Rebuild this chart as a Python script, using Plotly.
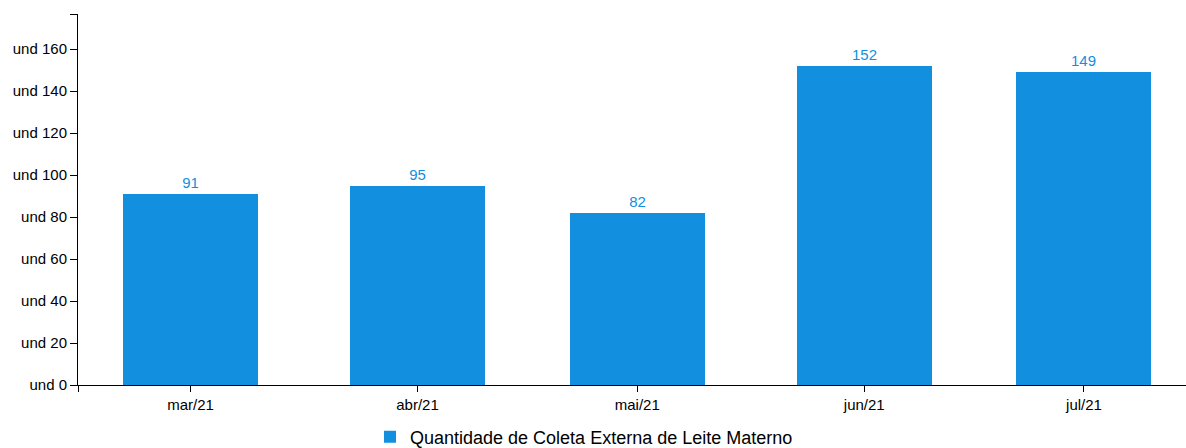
import datetime as dt
import plotly.graph_objects as go

# Data
months = ["2021-03-01", "2021-04-01", "2021-05-01", "2021-06-01", "2021-07-01"]
month_labels = ["mar/21", "abr/21", "mai/21", "jun/21", "jul/21"]
values = [91, 95, 82, 152, 149]
series_name = "Quantidade de Coleta Externa de Leite Materno"
y_ticks = [0, 20, 40, 60, 80, 100, 120, 140, 160]
y_tick_labels = ["und %d" % v for v in y_ticks]

color = "#128fdf"
y_max = 176.7

first = dt.datetime(2021, 3, 1)
last = dt.datetime(2021, 7, 1)
x_start = first - dt.timedelta(days=15.36)
x_end = last + dt.timedelta(days=13.93)
bar_width_ms = 18.43 * 86400000

fig = go.Figure()
fig.add_trace(go.Bar(
    x=months, y=values, name=series_name,
    width=[bar_width_ms] * len(values),
    marker=dict(color=color, line=dict(width=0)),
    text=[str(v) for v in values], textposition="outside",
    textfont=dict(color=color, size=15, family="Liberation Sans, Arial, sans-serif"),
    cliponaxis=False,
    showlegend=True,
))

fig.update_layout(
    width=1186, height=448,
    margin=dict(l=78, r=0, t=14, b=63, autoexpand=False),
    paper_bgcolor="white", plot_bgcolor="white",
    font=dict(family="Liberation Sans, Arial, sans-serif", size=15, color="#000"),
    showlegend=True,
    legend=dict(orientation="h", x=(584 - 78) / 1108, xanchor="center",
                y=-(437 - 385) / 371, yanchor="middle",
                font=dict(size=18, color="#000")),
    bargap=0,
)
fig.update_xaxes(
    type="date", range=[x_start, x_end], automargin=False,
    tickvals=[x_start] + months, ticktext=[""] + month_labels,
    ticks="outside", ticklen=6, tickcolor="#000", tickwidth=1,
    showline=True, linecolor="#000", linewidth=1,
    showgrid=False, zeroline=False,
    tickfont=dict(size=15, color="#000"),
)
fig.update_yaxes(
    range=[0, y_max], automargin=False,
    tickvals=y_ticks + [y_max], ticktext=y_tick_labels + [""],
    ticks="outside", ticklen=7, tickcolor="#000", tickwidth=1,
    showline=True, linecolor="#000", linewidth=1,
    showgrid=False, zeroline=False,
    tickfont=dict(size=15, color="#000"),
)

fig.write_html(
    "out.html",
    config={"displayModeBar": False},
    post_script="document.body.style.margin='0';document.body.style.overflow='hidden';",
)
